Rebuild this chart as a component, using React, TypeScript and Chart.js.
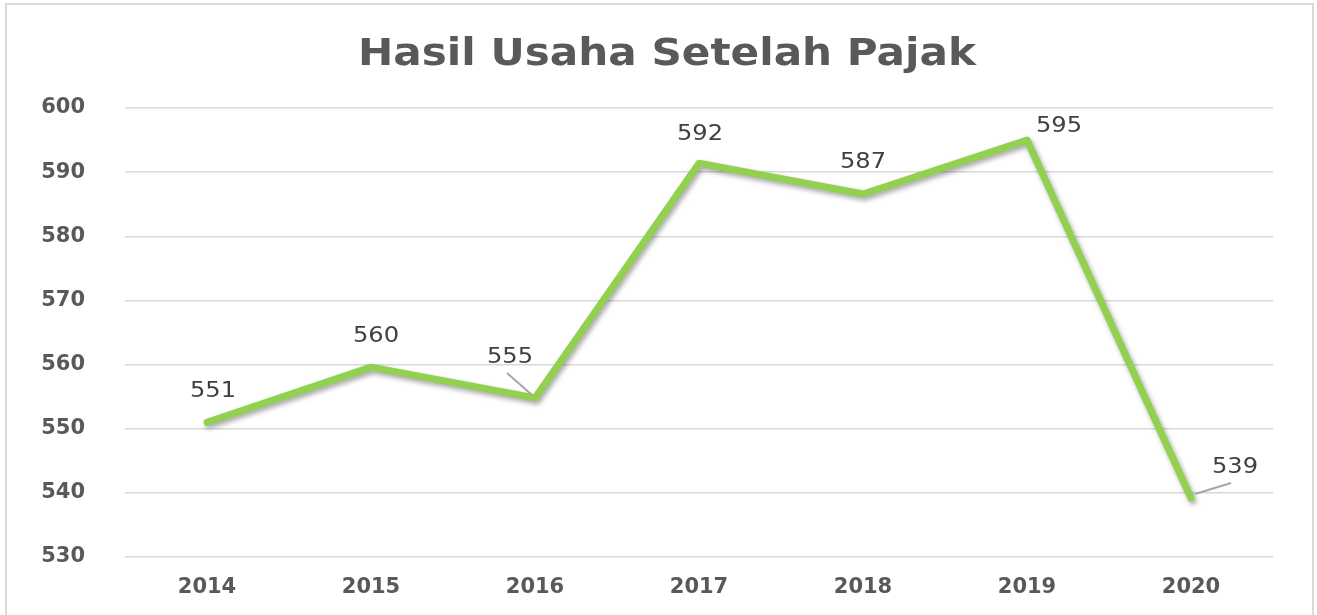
import React, { useEffect, useRef } from "react";
import { Chart, registerables } from "chart.js";

Chart.register(...registerables);

const categories = ["2014", "2015", "2016", "2017", "2018", "2019", "2020"];
const values = [551.0, 559.6, 554.8, 591.4, 586.6, 595.0, 539.2];
const valueLabels = ["551", "560", "555", "592", "587", "595", "539"];
const yMin = 530;
const yMax = 600;
const yStep = 10;
const titleText = "Hasil Usaha Setelah Pajak";

// label placement offsets (alphabetic baseline) relative to each point (style only)
const labelOffsets: [number, number][] = [
  [6, -25],
  [5, -25],
  [-25, -35],
  [1, -23],
  [0, -26],
  [32, -8],
  [44, -25],
];
// leader lines: index -> [from offset, to offset] relative to point
const leaderLines: Record<number, [[number, number], [number, number]]> = {
  2: [[-28, -25], [-3, -3]],
  6: [[4, -4], [40, -15]],
};

const drawStretchedText = (
  ctx: CanvasRenderingContext2D,
  text: string,
  x: number,
  y: number,
  sx: number
) => {
  ctx.save();
  ctx.translate(x, y);
  ctx.scale(sx, 1);
  ctx.fillText(text, 0, 0);
  ctx.restore();
};

const shadowPlugin = {
  id: "lineShadow",
  beforeDatasetsDraw(chart: any) {
    const ctx = chart.ctx;
    ctx.save();
    ctx.shadowColor = "rgba(0,0,0,0.35)";
    ctx.shadowBlur = 5;
    ctx.shadowOffsetX = 2;
    ctx.shadowOffsetY = 3;
  },
  afterDatasetsDraw(chart: any) {
    chart.ctx.restore();
  },
};

const titlePlugin = {
  id: "stretchedTitle",
  afterDraw(chart: any) {
    const ctx = chart.ctx;
    ctx.save();
    ctx.font = "bold 37px 'DejaVu Sans'";
    ctx.fillStyle = "#595959";
    ctx.textAlign = "center";
    ctx.textBaseline = "alphabetic";
    drawStretchedText(ctx, titleText, 667, 65, 1.14);
    ctx.restore();
  },
};

const labelPlugin = {
  id: "valueLabels",
  afterDraw(chart: any) {
    const ctx = chart.ctx;
    const meta = chart.getDatasetMeta(0);
    ctx.save();
    meta.data.forEach((pt: any, i: number) => {
      const ll = leaderLines[i];
      if (ll) {
        ctx.beginPath();
        ctx.strokeStyle = "#a6a6a6";
        ctx.lineWidth = 2;
        ctx.moveTo(pt.x + ll[0][0], pt.y + ll[0][1]);
        ctx.lineTo(pt.x + ll[1][0], pt.y + ll[1][1]);
        ctx.stroke();
      }
      const [dx, dy] = labelOffsets[i];
      ctx.font = "21px 'DejaVu Sans'";
      ctx.fillStyle = "#404040";
      ctx.textAlign = "center";
      ctx.textBaseline = "alphabetic";
      drawStretchedText(ctx, valueLabels[i], pt.x + dx, pt.y + dy, 1.15);
    });
    ctx.restore();
  },
};

export default function App() {
  const ref = useRef<HTMLCanvasElement | null>(null);

  useEffect(() => {
    if (!ref.current) return;
    const chart = new Chart(ref.current, {
      type: "line",
      data: {
        labels: categories,
        datasets: [
          {
            data: values,
            borderColor: "#92D050",
            borderWidth: 7,
            pointRadius: 0,
            pointHoverRadius: 0,
            tension: 0,
            borderJoinStyle: "round",
            borderCapStyle: "round",
            fill: false,
          },
        ],
      },
      options: {
        responsive: false,
        animation: false,
        layout: { padding: { left: 0, right: 44, top: 108, bottom: 0 } },
        plugins: {
          legend: { display: false },
          tooltip: { enabled: false },
          title: { display: false },
        },
        scales: {
          x: {
            offset: true,
            grid: { display: false, drawTicks: false },
            border: { display: false },
            ticks: {
              color: "#595959",
              font: { family: "'DejaVu Sans'", size: 21, weight: "bold" },
              padding: 18,
            },
            afterFit(axis: any) {
              axis.height = 58;
            },
          },
          y: {
            min: yMin,
            max: yMax,
            ticks: {
              stepSize: yStep,
              color: "#595959",
              font: { family: "'DejaVu Sans'", size: 21, weight: "bold" },
              padding: 40,
            },
            grid: { color: "#d9d9d9", lineWidth: 1.5, drawTicks: false },
            border: { display: false },
            afterFit(axis: any) {
              axis.width = 125;
            },
          },
        },
      },
      plugins: [shadowPlugin, labelPlugin, titlePlugin],
    });
    return () => chart.destroy();
  }, []);

  return (
    <div
      style={{
        position: "fixed",
        left: 0,
        top: 0,
        width: 1317,
        height: 615,
        overflow: "hidden",
        background: "#fff",
      }}
    >
      <div
        style={{
          position: "absolute",
          left: 5,
          top: 3,
          width: 1305,
          height: 640,
          border: "2px solid #d9d9d9",
        }}
      />
      <canvas
        ref={ref}
        width={1317}
        height={615}
        style={{ position: "absolute", left: 0, top: 0, width: 1317, height: 615 }}
      />
    </div>
  );
}
